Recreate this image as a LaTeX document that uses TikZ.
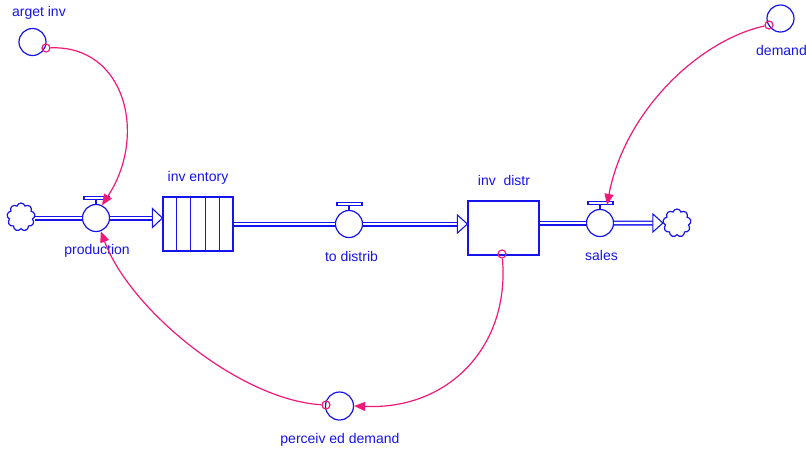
\documentclass[tikz,border=0pt]{standalone}
\usepackage{fontspec}
\setmainfont{Liberation Sans}
\usetikzlibrary{arrows.meta,shapes.symbols,calc}
\definecolor{stockblue}{RGB}{20,20,235}
\definecolor{linkpink}{RGB}{240,25,120}

\begin{document}
\begin{tikzpicture}[x=1pt,y=-1pt,
        % 通用樣式
        stock/.style={draw=stockblue, line width=1.2pt, minimum width=70pt, minimum height=54pt, inner sep=0pt},
        valve/.style={circle, draw=stockblue, line width=1.2pt, minimum size=27pt, inner sep=0pt, fill=white},
        valve line/.style={draw=stockblue, line width=1.1pt, fill=white},
        aux/.style={circle, draw=stockblue, line width=1.2pt, minimum size=27pt, inner sep=0pt},
        boundary/.style={cloud, cloud puffs=9, aspect=1, draw=stockblue, line width=1.2pt, minimum size=28pt, inner sep=0pt},
        pipe/.style={draw=stockblue, double=white, double distance=2.4pt, line width=1.3pt},
        pipe head/.style={draw=stockblue, fill=white, line width=1.1pt, line join=miter},
        link/.style={draw=linkpink, line width=1.2pt, -{Triangle[length=11pt,width=9pt]}},
        link tail/.style={circle, draw=linkpink, line width=1.2pt, minimum size=8pt, inner sep=0pt},
        label text/.style={text=stockblue, font=\fontsize{14}{16}\selectfont, anchor=base, inner sep=0pt}
    ]
    \useasboundingbox (0,0) rectangle (806,451);
    \clip (0,0) rectangle (806,451);

    % --- 存量 (stocks) ---
    \node[stock] (inventory) at (198,224) {};
    \foreach \i in {1,...,4}
        \draw[stockblue, line width=1.2pt] ($(inventory.north west)!\i/5!(inventory.north east)$)
            -- ($(inventory.south west)!\i/5!(inventory.south east)$);
    \node[stock, minimum width=71pt] (inv distr) at (503.5,228) {};

    % --- 雲 (source / sink) ---
    \node[boundary] (source) at (21,217) {};
    \node[boundary] (sink) at (677,223) {};

    % --- 閥門 (valves) ---
    \node[valve] (production) at (96,218) {};
    \node[valve] (to distrib) at (349,224) {};
    \node[valve] (sales) at (600,223) {};
    \foreach \v in {production, to distrib, sales} {
        \draw[stockblue, line width=2.5pt] (\v.north) -- ++(0,-4) coordinate (\v\space stem);
        \draw[valve line] ([xshift=-12pt]\v\space stem) rectangle ++(25,-3.5);
    }

    % --- 管線 (pipes) ---
    \draw[pipe] (source.east |- production) -- (production.west);
    \draw[pipe] (production.east) -- ([xshift=-10pt]inventory.west |- production);
    \draw[pipe head] (inventory.west |- production) -- ++(-10,-9.5) -- ++(0,19) -- cycle;
    \draw[pipe] (inventory.east |- to distrib) -- (to distrib.west);
    \draw[pipe] (to distrib.east) -- ([xshift=-10pt]inv distr.west |- to distrib);
    \draw[pipe head] (inv distr.west |- to distrib) -- ++(-10,-9) -- ++(0,18) -- cycle;
    \draw[pipe] (inv distr.east |- sales) -- (sales.west);
    \draw[pipe] (sales.east) -- ([xshift=-10pt]sink.west);
    \draw[pipe head] (sink.west) -- ++(-10,-9) -- ++(0,18) -- cycle;

    % --- 輔助變數 (auxiliaries) ---
    \node[aux] (target inv) at (32.5,42) {};
    \node[aux] (demand) at (780.5,18.5) {};
    \node[aux, minimum size=28pt] (perceived demand) at (339.5,406) {};

    % --- 文字 ---
    \begin{scope}
        \clip (12.5,0) rectangle (90,30);
        \node[label text] (target inv label) at (37,16) {target inv};
    \end{scope}
    \node[label text] (production label) at (97,254) {production};
    \node[label text] (inventory label) at (198,181) {inv entory};
    \node[label text] (to distrib label) at (351.5,261) {to distrib};
    \node[label text] (inv distr label) at (504,185) {inv\ \ distr};
    \node[label text] (sales label) at (601.5,260) {sales};
    \node[label text] (demand label) at (781.5,55) {demand};
    \node[label text] (perceived demand label) at (340,443) {perceiv ed demand};

    % --- 連結 (links) ---
    \node[link tail] (target inv tail) at (46,48) {};
    \draw[link] (target inv tail) .. controls (125,45) and (148,135) .. (production.65);
    \node[link tail] (demand tail) at (769,25) {};
    \draw[link] (demand tail) .. controls (700,40) and (625,110) .. ([xshift=7pt]sales stem);
    \node[link tail] (inv distr tail) at (502,254) {};
    \draw[link] (inv distr tail) .. controls (510,345) and (450,410) .. (perceived demand.east);
    \node[link tail] (perceived tail) at (326,405) {};
    \draw[link] (perceived tail) .. controls (240,400) and (130,310) .. (production.-70);

\end{tikzpicture}
\end{document}
